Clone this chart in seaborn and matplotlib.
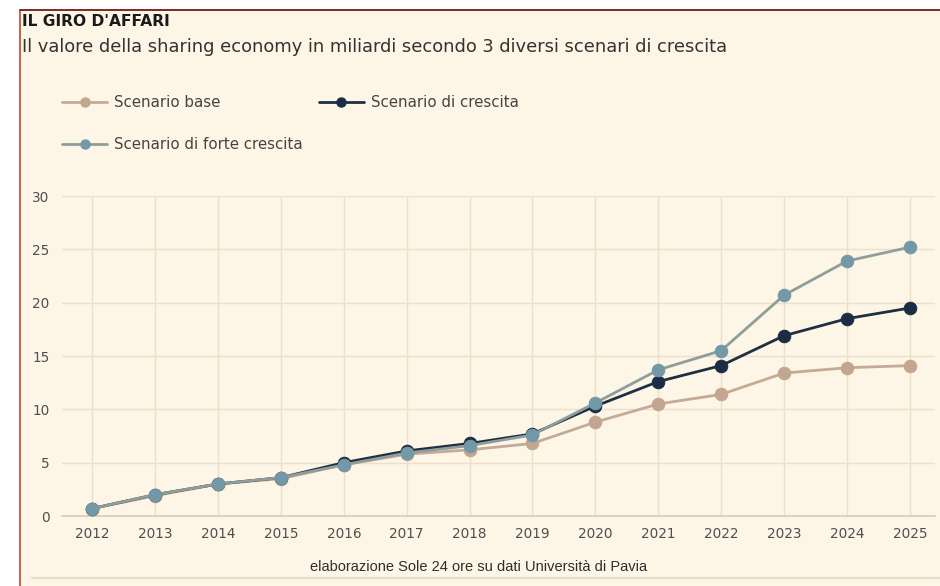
import matplotlib
matplotlib.use("Agg")
import matplotlib.pyplot as plt
import seaborn as sns
import pandas as pd
from matplotlib.patches import Rectangle
from matplotlib.lines import Line2D

years = [2012, 2013, 2014, 2015, 2016, 2017, 2018, 2019, 2020, 2021, 2022, 2023, 2024, 2025]
base = [0.7, 1.9, 3.0, 3.5, 4.8, 5.8, 6.2, 6.8, 8.8, 10.5, 11.4, 13.4, 13.9, 14.1]
crescita = [0.7, 2.0, 3.0, 3.6, 5.0, 6.1, 6.8, 7.7, 10.3, 12.6, 14.1, 16.9, 18.5, 19.5]
forte = [0.7, 2.0, 3.0, 3.6, 4.8, 5.9, 6.6, 7.6, 10.6, 13.7, 15.5, 20.7, 23.9, 25.2]
y_ticks = [0, 5, 10, 15, 20, 25, 30]
labels = ["Scenario base", "Scenario di crescita", "Scenario di forte crescita"]

df = pd.DataFrame({"anno": years * 3,
                   "valore": base + crescita + forte,
                   "scenario": [labels[0]] * 14 + [labels[1]] * 14 + [labels[2]] * 14})

sns.set_theme(style="white")
plt.rcParams['font.family'] = ['DejaVu Sans']

BG = "#fdf5e5"
fig = plt.figure(figsize=(9.4, 5.86), dpi=100)
fig.patch.set_facecolor("white")
# cream card with red border
fig.add_artist(Rectangle((20 / 940, 0), 1, 1 - 10 / 586, transform=fig.transFigure,
                         facecolor=BG, edgecolor="none", zorder=-10))
fig.add_artist(Line2D([20 / 940, 20 / 940], [0, 1 - 10 / 586], transform=fig.transFigure,
                      color="#c0463a", lw=1.2))
fig.add_artist(Line2D([20 / 940, 1], [1 - 10 / 586, 1 - 10 / 586], transform=fig.transFigure,
                      color="#7a2a22", lw=1.4))
fig.add_artist(Line2D([32 / 940, 1], [1 - 578 / 586, 1 - 578 / 586], transform=fig.transFigure,
                      color="#e8dcc6", lw=1.5))

ax = fig.add_axes([62 / 940, 1 - 516 / 586, (935 - 62) / 940, (516 - 196) / 586])
ax.set_facecolor(BG)

styles = {
    labels[0]: dict(line="#c4ab98", mk="#c2a690", z=3),
    labels[1]: dict(line="#1e2f42", mk="#1b2d44", z=4),
    labels[2]: dict(line="#8f9e9a", mk="#7398a8", z=5),
}
for lab in labels:
    s = styles[lab]
    sns.lineplot(data=df[df["scenario"] == lab], x="anno", y="valore", ax=ax,
                 color=s["line"], lw=2.0, marker="o", markersize=9,
                 markerfacecolor=s["mk"], markeredgecolor=s["mk"], zorder=s["z"],
                 legend=False)

ax.set_xlim(2011.52, 2025.4)
ax.set_ylim(0, 30)
ax.set_xticks(years)
ax.set_xticklabels([str(y) for y in years])
ax.set_yticks(y_ticks)
ax.set_xlabel("")
ax.set_ylabel("")
ax.grid(True, color="#ebe0cc", lw=1)
for sp in ["top", "right", "left"]:
    ax.spines[sp].set_visible(False)
ax.spines["bottom"].set_color("#d9ccb6")
ax.spines["bottom"].set_linewidth(1.2)
ax.tick_params(axis="both", length=0, labelsize=9.8, colors="#4f4f4f")
ax.tick_params(axis="x", pad=8)
ax.tick_params(axis="y", pad=9)

handles = []
for lab in [labels[0], labels[2], labels[1]]:
    s = styles[lab]
    handles.append(Line2D([0], [0], color=s["line"], lw=2.0, marker="o", markersize=6.5,
                          markerfacecolor=s["mk"], markeredgecolor=s["mk"], label=lab))
fig.legend(handles=handles, loc="upper left", bbox_to_anchor=(62 / 940, 1 - 95 / 586),
           ncol=2, frameon=False, fontsize=10.8, handlelength=3.0, handletextpad=0.45,
           columnspacing=1.1, labelspacing=1.8, labelcolor="#444444",
           borderpad=0, borderaxespad=0)

fig.text(22 / 940, 1 - 21 / 586, "IL GIRO D'AFFARI", fontsize=11.2, fontweight="bold",
         color="#1a1a1a", va="center", ha="left")
fig.text(22 / 940, 1 - 47 / 586,
         "Il valore della sharing economy in miliardi secondo 3 diversi scenari di crescita",
         fontsize=12.9, color="#333333", va="center", ha="left")
fig.text(479 / 940, 1 - 567 / 586, "elaborazione Sole 24 ore su dati Università di Pavia",
         fontsize=10.5, color="#2e2e2e", va="center", ha="center",
         family=["Liberation Sans", "DejaVu Sans"])

fig.savefig("out.png", dpi=100, facecolor=fig.get_facecolor())
